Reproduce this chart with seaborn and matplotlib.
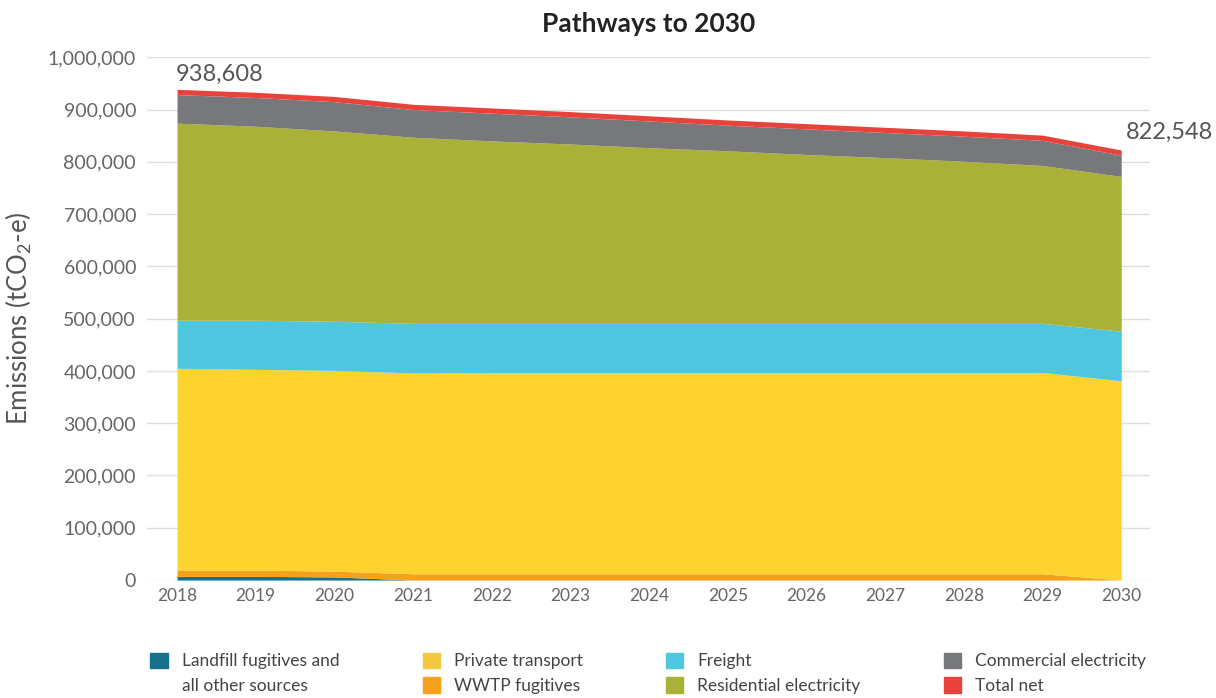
import matplotlib
matplotlib.use("Agg")
import matplotlib.pyplot as plt
from matplotlib.patches import Patch
from matplotlib.ticker import FuncFormatter, MultipleLocator
import seaborn as sns

# Emissions by source, tCO2-e
years = [2018, 2019, 2020, 2021, 2022, 2023, 2024, 2025, 2026, 2027, 2028, 2029, 2030]
landfill = [7000, 7000, 6000, 0, 0, 0, 0, 0, 0, 0, 0, 0, 0]
wwtp = [12000, 12000, 11000, 12000, 12000, 12000, 12000, 12000, 12000, 12000, 12000, 12000, 0]
private_transport = [386000, 384000, 384000, 384000, 385000, 385000, 385000, 385000,
                     385000, 385000, 385000, 385000, 381000]
freight = [92000, 94000, 94000, 95000, 94000, 94000, 94000, 94000, 94000, 94000, 94000, 94000, 95000]
residential = [377000, 371000, 364000, 356000, 349000, 343000, 336000, 330000,
               323000, 317000, 310000, 302000, 296000]
commercial = [54608, 55000, 56000, 53000, 53000, 52000, 51000, 49000,
              49000, 48000, 48000, 48000, 40548]
total_net = [10000, 10000, 10000, 10000, 10000, 10000, 10000, 10000,
             10000, 10000, 10000, 10000, 10000]

colors = ["#17708c", "#f6a11c", "#fed22f", "#4ec6df", "#a9b136", "#76787b", "#e8423a"]

sns.set_theme(style="white")
plt.rcParams["font.family"] = ["Lato", "DejaVu Sans"]
plt.rcParams["mathtext.default"] = "regular"

fig = plt.figure(figsize=(12.16, 6.98), dpi=100)
ax = fig.add_axes([0.121, 0.169, 0.825, 0.749])

layers = [landfill, wwtp, private_transport, freight, residential, commercial, total_net]
ax.stackplot(years, *layers, colors=colors, linewidth=0, zorder=2)

ax.set_xlim(2017.62, 2030.37)
ax.set_ylim(0, 1000000)
ax.yaxis.set_major_locator(MultipleLocator(100000))
ax.set_xticks(years)
ax.yaxis.set_major_formatter(FuncFormatter(lambda v, p: f"{int(v):,}"))
ax.grid(axis="y", color="#dddddd", linewidth=1, zorder=0)
ax.grid(axis="x", visible=False)
sns.despine(ax=ax, left=True, bottom=True)
ax.tick_params(axis="both", length=0, labelcolor="#666666")
ax.tick_params(axis="x", pad=6, labelsize=12.5)
ax.tick_params(axis="y", pad=8, labelsize=14)

ax.set_ylabel("Emissions (tCO$_2$-e)", fontsize=18.5, color="#555555", labelpad=10)
ax.set_title("Pathways to 2030", fontsize=19, fontweight="bold", color="#222222", pad=18)

totals = [sum(v) for v in zip(*layers)]
ax.annotate(f"{totals[0]:,}", xy=(years[0], totals[0]), xytext=(-1, 3),
            textcoords="offset points", ha="left", va="bottom", fontsize=17, color="#555555")
ax.annotate(f"{totals[-1]:,}", xy=(years[-1], totals[-1]), xytext=(3, 5),
            textcoords="offset points", ha="left", va="bottom", fontsize=17, color="#555555")

# Legend, filled column by column; the landfill label wraps onto a second row
handles = [
    Patch(color=colors[0]), Patch(color="none"),
    Patch(color="#f5c842"), Patch(color=colors[1]),
    Patch(color=colors[3]), Patch(color=colors[4]),
    Patch(color=colors[5]), Patch(color=colors[6]),
]
labels = ["Landfill fugitives and", "all other sources",
          "Private transport", "WWTP fugitives",
          "Freight", "Residential electricity",
          "Commercial electricity", "Total net"]
leg = fig.legend(handles, labels, ncol=4, loc="upper left", bbox_to_anchor=(0.118, 0.075),
                 frameon=False, fontsize=12.5, handlelength=1.0, handleheight=1.0,
                 handletextpad=0.8, columnspacing=4.8, labelspacing=0.45, borderaxespad=0)
for t in leg.get_texts():
    t.set_color("#444444")

fig.savefig("out.png", dpi=100)
